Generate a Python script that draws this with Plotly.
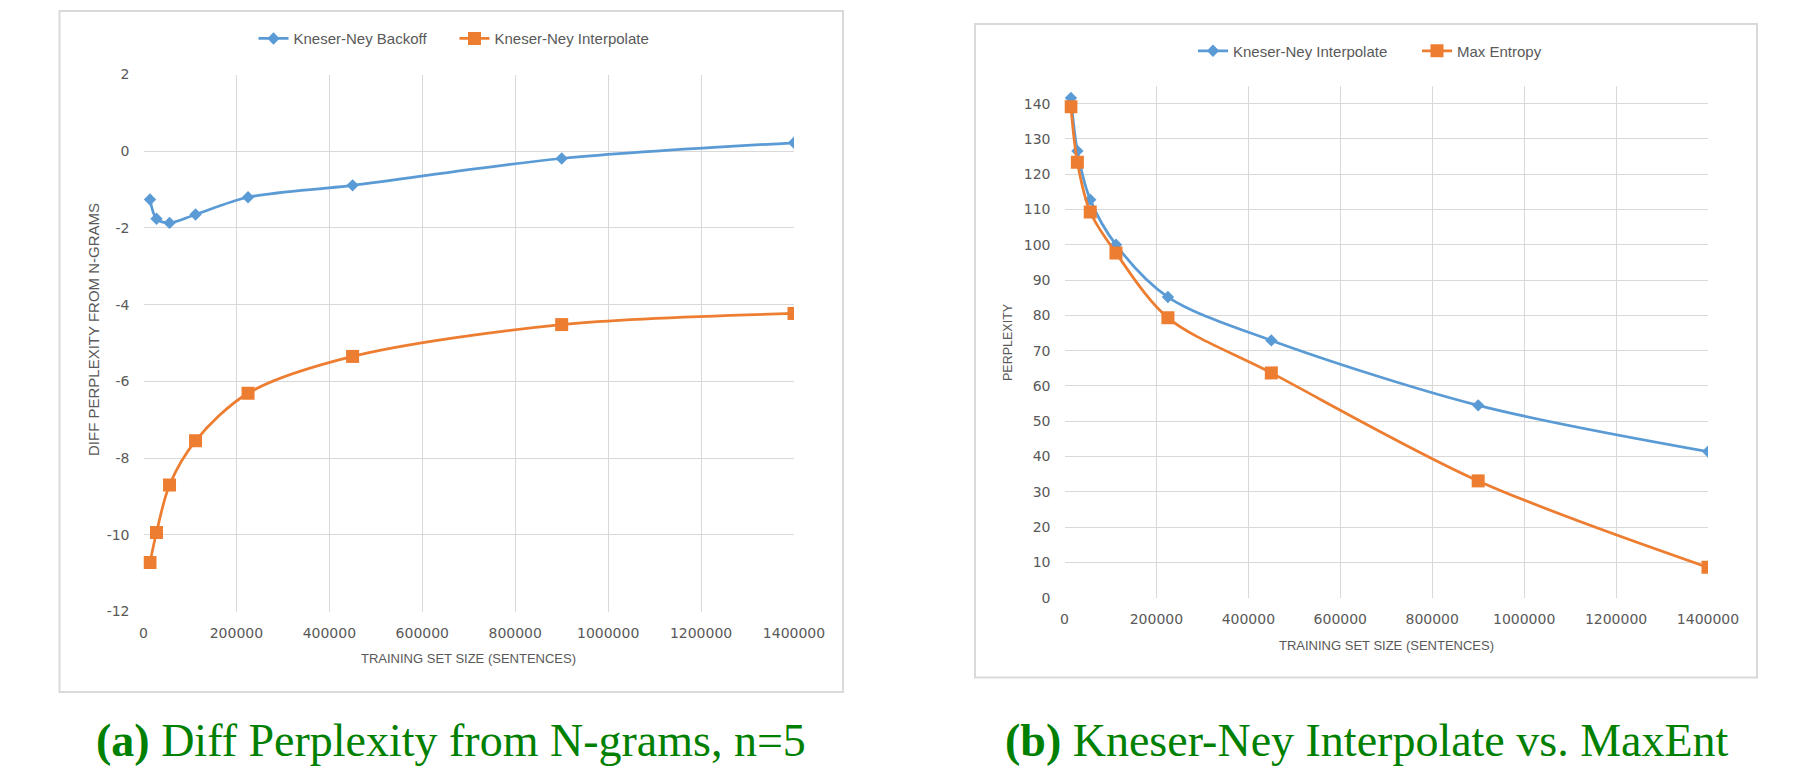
import plotly.graph_objects as go

W, H = 1802, 772

# Training set sizes (sentences)
train_sizes = [14000, 28000, 56000, 112000, 225000, 450000, 900000, 1400000]

# (a) Difference in perplexity relative to plain n-grams, n=5
kn_backoff_diff = [-1.26, -1.76, -1.87, -1.65, -1.20, -0.89, -0.19, 0.22]
kn_interp_diff = [-10.72, -9.94, -8.70, -7.55, -6.31, -5.35, -4.52, -4.23]

# (b) Absolute perplexity
kn_interp_ppl = [141.6, 126.6, 112.8, 100.0, 85.2, 72.9, 54.5, 41.4]
maxent_ppl = [139.1, 123.4, 109.3, 97.7, 79.3, 63.7, 33.1, 8.6]

# Tick values and labels
x_ticks = [0, 200000, 400000, 600000, 800000, 1000000, 1200000, 1400000]
x_tick_text = [str(v) for v in x_ticks]
y_ticks_a = [-12, -10, -8, -6, -4, -2, 0, 2]
y_tick_text_a = [str(v) for v in y_ticks_a]
y_ticks_b = [0, 10, 20, 30, 40, 50, 60, 70, 80, 90, 100, 110, 120, 130, 140]
y_tick_text_b = [str(v) for v in y_ticks_b]

BLUE = "#5B9BD5"
ORANGE = "#ED7D31"
GRID = "#D9D9D9"
TEXT = "#595959"
GREEN = "#008000"


def fx(px):
    return px / W


def fy(py):
    return 1 - py / H


fig = go.Figure()

line_style = dict(width=2.75, shape="spline", smoothing=0.9)

fig.add_trace(go.Scatter(
    x=train_sizes, y=kn_backoff_diff, name="Kneser-Ney Backoff",
    mode="lines+markers", line=dict(color=BLUE, **line_style),
    marker=dict(symbol="diamond", size=9.5, color=BLUE),
    xaxis="x", yaxis="y", legend="legend", legendwidth=156))
fig.add_trace(go.Scatter(
    x=train_sizes, y=kn_interp_diff, name="Kneser-Ney Interpolate",
    mode="lines+markers", line=dict(color=ORANGE, **line_style),
    marker=dict(symbol="square", size=13, color=ORANGE),
    xaxis="x", yaxis="y", legend="legend"))

fig.add_trace(go.Scatter(
    x=train_sizes, y=kn_interp_ppl, name="Kneser-Ney Interpolate",
    mode="lines+markers", line=dict(color=BLUE, **line_style),
    marker=dict(symbol="diamond", size=9.5, color=BLUE),
    xaxis="x2", yaxis="y2", legend="legend2", legendwidth=179))
fig.add_trace(go.Scatter(
    x=train_sizes, y=maxent_ppl, name="Max Entropy",
    mode="lines+markers", line=dict(color=ORANGE, **line_style),
    marker=dict(symbol="square", size=13, color=ORANGE),
    xaxis="x2", yaxis="y2", legend="legend2"))

tick_font = dict(family="DejaVu Sans", size=14, color=TEXT)

xaxis_common = dict(
    range=[0, 1400000], tickvals=x_ticks, ticktext=x_tick_text,
    showgrid=True, gridcolor=GRID, gridwidth=1, zeroline=False,
    showline=False, ticks="", tickfont=tick_font, ticklabelstandoff=11,
    automargin=False, fixedrange=True)
yaxis_common = dict(
    showgrid=True, gridcolor=GRID, gridwidth=1, zeroline=False,
    showline=False, ticks="", tickfont=tick_font, ticklabelstandoff=13,
    automargin=False, fixedrange=True)

legend_common = dict(
    orientation="h", xanchor="center", yanchor="middle",
    font=dict(family="Liberation Sans", size=15, color=TEXT),
    bgcolor="rgba(0,0,0,0)", itemclick=False, itemdoubleclick=False)

fig.update_layout(
    width=W, height=H,
    margin=dict(l=0, r=0, t=0, b=0, autoexpand=False),
    paper_bgcolor="white", plot_bgcolor="white",
    xaxis=dict(domain=[fx(143.5), fx(794)], anchor="y", **xaxis_common),
    yaxis=dict(domain=[fy(611.5), fy(74.5)], anchor="x", range=[-12, 2],
               tickvals=y_ticks_a, ticktext=y_tick_text_a, **yaxis_common),
    xaxis2=dict(domain=[fx(1064.5), fx(1708)], anchor="y2", **xaxis_common),
    yaxis2=dict(domain=[fy(597.7), fy(86)], anchor="x2", range=[0, 145],
                tickvals=y_ticks_b, ticktext=y_tick_text_b, **yaxis_common),
    legend=dict(x=fx(454), y=fy(38.7), **legend_common),
    legend2=dict(x=fx(1370), y=fy(51), **legend_common),
    showlegend=True,
)

# Chart frames
for (x0, y0, x1, y1) in [(59.5, 11, 843, 692), (975, 24, 1757, 677.5)]:
    fig.add_shape(type="rect", xref="paper", yref="paper",
                  x0=fx(x0), x1=fx(x1), y0=fy(y1), y1=fy(y0),
                  line=dict(color=GRID, width=2), layer="below")

axis_title_font = dict(family="Liberation Sans", size=13, color=TEXT)

annotations = [
    dict(text="TRAINING SET SIZE (SENTENCES)", x=fx(468.5), y=fy(658.7),
         font=axis_title_font),
    dict(text="TRAINING SET SIZE (SENTENCES)", x=fx(1386), y=fy(645.7),
         font=axis_title_font),
    dict(text="DIFF PERPLEXITY FROM N-GRAMS", x=fx(93), y=fy(330),
         textangle=-90, font=dict(family="Liberation Sans", size=15, color=TEXT)),
    dict(text="PERPLEXITY", x=fx(1008), y=fy(342), textangle=-90,
         font=dict(family="Liberation Sans", size=12.5, color=TEXT)),
    dict(text="<b>(a)</b> Diff Perplexity from N-grams, n=5",
         x=fx(450.5), y=fy(740),
         font=dict(family="Liberation Serif", size=46, color=GREEN)),
    dict(text="<b>(b)</b> Kneser-Ney Interpolate vs. MaxEnt",
         x=fx(1367), y=fy(740),
         font=dict(family="Liberation Serif", size=46, color=GREEN)),
]
for a in annotations:
    a.update(xref="paper", yref="paper", showarrow=False,
             xanchor="center", yanchor="middle")
fig.update_layout(annotations=annotations)

fig.write_html("out.html", config={"displayModeBar": False})
